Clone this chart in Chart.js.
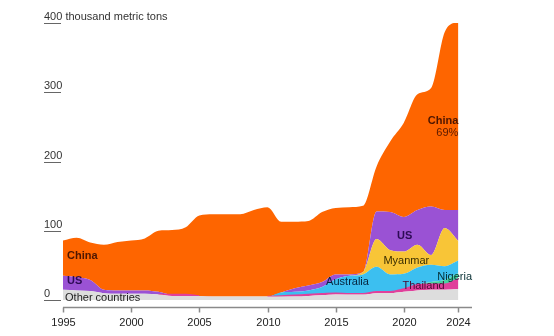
<!DOCTYPE html>
<html>
<head>
<meta charset="utf-8">
<script src="https://cdn.jsdelivr.net/npm/chart.js@4.4.1/dist/chart.umd.min.js"></script>
<style>
    html, body { margin: 0; padding: 0; background: #fff; }
    #wrap { width: 554px; height: 336px; }
</style>
</head>
<body>
<div id="wrap"><canvas id="chartTambang" width="554" height="336"></canvas></div>
<script>
// Data produksi (ribu metric ton)
const years = [1995, 1996, 1997, 1998, 1999, 2000, 2001, 2002, 2003, 2004,
               2005, 2006, 2007, 2008, 2009, 2010, 2011, 2012, 2013, 2014,
               2015, 2016, 2017, 2018, 2019, 2020, 2021, 2022, 2023, 2024];

const otherCountries = [15, 14, 13, 10, 9, 9, 9, 8, 6, 6, 6, 5, 5, 5, 5, 5, 5, 5, 6, 7, 8, 8, 8, 10, 10, 12, 14, 15, 15, 16];
const thailand       = [0, 0, 0, 0, 0, 0, 0, 0, 2, 2, 0, 0, 0, 0, 0, 0, 1, 2, 2, 2, 2, 1, 1, 2, 2, 4, 8, 8, 8, 15];
const nigeria        = [0, 0, 0, 0, 0, 0, 0, 0, 0, 0, 0, 0, 0, 0, 0, 0, 0, 0, 0, 0, 0, 0, 0, 0, 0, 0, 0, 3, 6, 8];
const australia      = [0, 0, 0, 0, 0, 0, 0, 0, 0, 0, 0, 0, 0, 0, 0, 0, 5, 5, 6, 10, 20, 26, 28, 36, 25, 22, 25, 25, 20, 18];
const myanmar        = [0, 0, 0, 0, 0, 0, 0, 0, 0, 0, 0, 0, 0, 0, 0, 0, 0, 0, 0, 0, 0, 0, 3, 40, 35, 32, 33, 14, 55, 28];
const us             = [20, 19, 16, 5, 5, 5, 5, 4, 0, 0, 0, 0, 0, 0, 0, 0, 0, 5, 7, 7, 7, 2, 0, 40, 55, 50, 50, 70, 26, 45];
const china          = [51, 57, 54, 65, 70, 72, 75, 88, 93, 97, 116, 119, 119, 119, 125, 129, 102, 96, 93, 101, 96, 97, 96, 65, 102, 136, 167, 171, 257, 273];

const xTicks = [1995, 2000, 2005, 2010, 2015, 2020, 2024];
const yTicks = [0, 100, 200, 300, 400];
const yUnit = 'thousand metric tons';

document.addEventListener('DOMContentLoaded', function () {
    const FONT = '"Liberation Sans", Arial, sans-serif';

    // urutan dari bawah ke atas
    const series = [
        { name: 'Other countries', data: otherCountries, color: '#dddddd' },
        { name: 'Thailand', data: thailand, color: '#e0409b', line: true },
        { name: 'Nigeria', data: nigeria, color: '#45d2a0' },
        { name: 'Australia', data: australia, color: '#3cbff0' },
        { name: 'Myanmar', data: myanmar, color: '#f8c537' },
        { name: 'US', data: us, color: '#9a52d4' },
        { name: 'China', data: china, color: '#fe6500' }
    ];

    // label di dalam area: [teks, tahun, nilai, warna, bold, align]
    const areaLabels = [
        ['China', 1995.3, 63, '#4d1600', true, 'left'],
        ['US', 1995.3, 27, '#2d0a55', true, 'left'],
        ['Other countries', 1995.15, 2.5, '#222222', false, 'left'],
        ['Australia', 2014.3, 25.5, '#06243d', false, 'left'],
        ['Myanmar', 2018.5, 57, '#3a2e00', false, 'left'],
        ['US', 2019.5, 92, '#2d0a55', true, 'left'],
        ['Thailand', 2019.9, 21, '#4a0830', false, 'left'],
        ['Nigeria', 2022.45, 34, '#062f33', false, 'left'],
        ['China', 2024, 259, '#4d1600', true, 'right'],
        ['69%', 2024, 241.5, '#5a1a00', false, 'right']
    ];

    const datasets = series.map(function (s, i) {
        return {
            label: s.name,
            data: years.map((yr, j) => ({ x: yr, y: s.data[j] })),
            backgroundColor: s.color,
            borderColor: s.line ? s.color : 'transparent',
            borderWidth: s.line ? 1.5 : 0,
            fill: i === 0 ? 'origin' : '-1',
            pointRadius: 0,
            cubicInterpolationMode: 'monotone',
            segment: s.line ? {
                borderColor: ctx => (s.data[ctx.p0DataIndex] === 0 && s.data[ctx.p1DataIndex] === 0) ? 'transparent' : s.color
            } : undefined
        };
    });

    const axisPlugin = {
        id: 'axisPlugin',
        afterDraw(chart) {
            const ctx = chart.ctx;
            const xs = chart.scales.x;
            const ys = chart.scales.y;
            ctx.save();

            // label sumbu y + garis pendek di bawahnya
            ctx.font = '11px ' + FONT;
            ctx.fillStyle = '#333';
            ctx.textAlign = 'left';
            ctx.textBaseline = 'alphabetic';
            ctx.strokeStyle = '#666';
            ctx.lineWidth = 1;
            yTicks.forEach(function (v) {
                const py = Math.round(ys.getPixelForValue(v)) + 0.5;
                ctx.beginPath();
                ctx.moveTo(44, py);
                ctx.lineTo(61, py);
                ctx.stroke();
                ctx.fillText(v === 400 ? v + ' ' + yUnit : String(v), 44, py - 4);
            });

            // sumbu x
            const base = Math.round(chart.chartArea.bottom) + 0.5;
            ctx.strokeStyle = '#8a8a8a';
            ctx.lineWidth = 1.5;
            ctx.beginPath();
            ctx.moveTo(xs.getPixelForValue(1995), base);
            ctx.lineTo(xs.getPixelForValue(2025), base);
            ctx.stroke();

            ctx.textAlign = 'center';
            ctx.fillStyle = '#222';
            xTicks.forEach(function (t) {
                const px = Math.round(xs.getPixelForValue(t)) + 0.5;
                ctx.beginPath();
                ctx.moveTo(px, base);
                ctx.lineTo(px, base + 5);
                ctx.stroke();
                ctx.fillText(String(t), px, base + 18);
            });

            // label seri
            ctx.textBaseline = 'middle';
            areaLabels.forEach(function (l) {
                ctx.font = (l[4] ? 'bold ' : '') + '11px ' + FONT;
                ctx.fillStyle = l[3];
                ctx.textAlign = l[5];
                ctx.fillText(l[0], xs.getPixelForValue(l[1]), ys.getPixelForValue(l[2]));
            });
            ctx.restore();
        }
    };

    new Chart(document.getElementById('chartTambang'), {
        type: 'line',
        data: { datasets: datasets },
        options: {
            responsive: false,
            animation: false,
            layout: { padding: { left: 63, right: 82, top: 23, bottom: 29 } },
            plugins: {
                legend: { display: false },
                tooltip: { enabled: false }
            },
            scales: {
                x: { type: 'linear', min: 1995, max: 2025, display: false },
                y: { stacked: true, min: -10, max: 400, display: false }
            }
        },
        plugins: [axisPlugin]
    });
});
</script>
</body>
</html>
